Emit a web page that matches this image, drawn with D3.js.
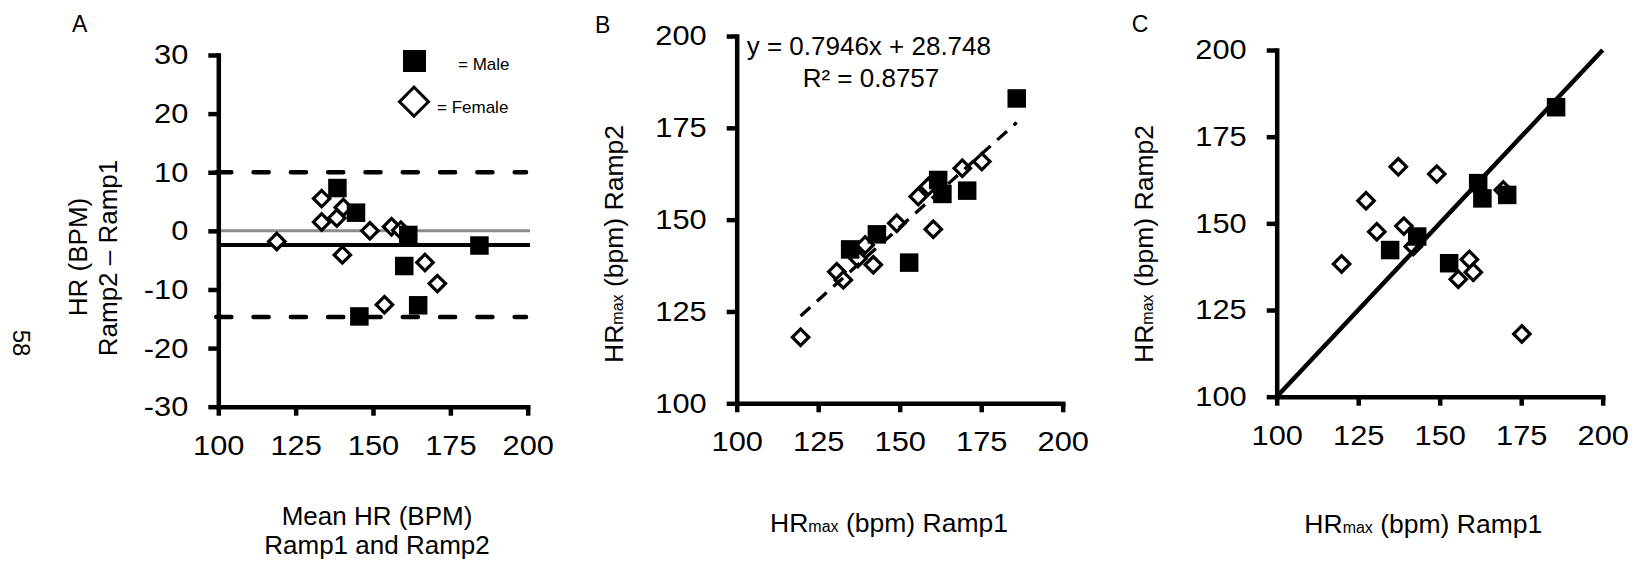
<!DOCTYPE html>
<html>
<head>
<meta charset="utf-8">
<script src="https://cdn.jsdelivr.net/npm/d3@7"></script>
<style>
  body { margin: 0; background: #fff; }
  svg text { font-family: "Liberation Sans", Arial, sans-serif; fill: #000; }
</style>
</head>
<body>
<svg width="1637" height="562"></svg>
<script>
// ---- data ----
// Panel A: Bland-Altman, mean of the two ramps vs Ramp2 - Ramp1
const maleMeanA   = [138.5, 144.5, 161.4, 160.1, 164.6, 145.6, 184.4];
const maleDiffA   = [7.3, 3.1, -0.7, -6.0, -12.7, -14.6, -2.5];
const femaleMeanA = [118.9, 133.4, 133.4, 138.3, 140.4, 140.1, 149.0, 156.0, 159.0, 166.8, 170.8, 153.7];
const femaleDiffA = [-1.8, 5.5, 1.5, 2.2, 4.0, -4.1, 0.0, 0.7, 0.1, -5.4, -9.0, -12.6];
const biasA = -2.4;
const upperLoA = 10.0;
const lowerLoA = -14.7;
const ticksDiff = [-30, -20, -10, 0, 10, 20, 30];

// Panel B: Ramp1 vs Ramp2 with linear fit
const maleRamp1B   = [134.8, 143.0, 152.9, 161.8, 163.1, 170.7, 185.9];
const maleRamp2B   = [141.9, 146.0, 138.3, 160.8, 157.0, 157.9, 183.0];
const femaleRamp1B = [119.6, 130.7, 132.7, 139.4, 137.2, 141.9, 149.1, 155.7, 158.8, 169.2, 175.2, 160.3];
const femaleRamp2B = [118.0, 135.8, 133.6, 143.1, 139.4, 137.7, 149.0, 156.3, 159.0, 164.0, 165.8, 147.4];
const fitSlope = 0.7946;
const fitIntercept = 28.748;
const fitR2 = 0.8757;

// Panel C: Ramp1 vs Ramp2 with line of identity
const maleRamp1C   = [134.8, 143.1, 152.9, 161.8, 163.1, 170.7, 185.7];
const maleRamp2C   = [142.3, 146.2, 138.5, 161.6, 157.2, 158.2, 183.5];
const femaleRamp1C = [137.3, 149.1, 127.4, 130.7, 139.0, 141.9, 119.9, 159.1, 160.3, 155.7, 175.2, 169.5];
const femaleRamp2C = [166.3, 164.2, 156.5, 147.6, 149.2, 143.3, 138.3, 139.6, 135.9, 133.9, 118.1, 159.6];

const ticksHR = [100, 125, 150, 175, 200];

const svg = d3.select("svg");
const FONT_TICK = 28;
const STRETCH = 1.1; // the figure's text is a bit wider than plain Arial
const AXIS_W = 4.5;

const diamond = d3.symbol().type(d3.symbolSquare).size(135);
const SQ = 18.5;

function drawAxes(g, x, y, xTicks, yTicks) {
  const yAxis = g.append("g")
    .attr("transform", `translate(${x.range()[0]},0)`)
    .call(d3.axisLeft(y).tickValues(yTicks).tickFormat(d => String(d))
      .tickSizeInner(10).tickSizeOuter(0).tickPadding(20));
  const xAxis = g.append("g")
    .attr("transform", `translate(0,${y.range()[0]})`)
    .call(d3.axisBottom(x).tickValues(xTicks).tickFormat(d => String(d))
      .tickSizeInner(9).tickSizeOuter(0).tickPadding(19));
  [xAxis, yAxis].forEach(a => {
    a.select(".domain").attr("stroke", "#000").attr("stroke-width", AXIS_W).attr("stroke-linecap", "square");
    a.selectAll(".tick line").attr("stroke", "#000").attr("stroke-width", AXIS_W);
    a.selectAll(".tick text").attr("font-size", FONT_TICK).attr("fill", "#000")
      .attr("font-family", '"Liberation Sans", Arial, sans-serif')
      .attr("transform", `scale(${STRETCH},1)`);
  });
  yAxis.selectAll(".tick text").attr("x", -30 / STRETCH);
}

function drawPoints(g, x, y, fx, fy, mx, my) {
  g.append("g").selectAll("path")
    .data(fx.map((d, i) => [d, fy[i]]))
    .enter().append("path")
    .attr("d", diamond)
    .attr("transform", d => `translate(${x(d[0])},${y(d[1])}) rotate(45)`)
    .attr("fill", "#fff").attr("stroke", "#000").attr("stroke-width", 3.2);
  g.append("g").selectAll("rect")
    .data(mx.map((d, i) => [d, my[i]]))
    .enter().append("rect")
    .attr("x", d => x(d[0]) - SQ / 2)
    .attr("y", d => y(d[1]) - SQ / 2)
    .attr("width", SQ).attr("height", SQ)
    .attr("fill", "#000");
}

function hrTitle(g, x, y, rot, last) {
  const t = g.append("text")
    .attr("transform", `translate(${x},${y})` + (rot ? " rotate(-90)" : ""))
    .attr("text-anchor", "middle").attr("font-size", 26.5);
  t.append("tspan").text("HR");
  t.append("tspan").attr("font-size", 16).text("max");
  t.append("tspan").text(" (bpm) " + last);
}

// ---------------- Panel A ----------------
const gA = svg.append("g");
const xA = d3.scaleLinear().domain([100, 200]).range([218.3, 527.7]);
const yA = d3.scaleLinear().domain([-30, 30]).range([406.7, 55]);

gA.append("line").attr("x1", xA(100)).attr("x2", 530).attr("y1", yA(0)).attr("y2", yA(0))
  .attr("stroke", "#8c8c8c").attr("stroke-width", 3);
gA.append("line").attr("x1", xA(100)).attr("x2", 530).attr("y1", yA(biasA)).attr("y2", yA(biasA))
  .attr("stroke", "#000").attr("stroke-width", 4);
[upperLoA, lowerLoA].forEach(v => {
  gA.append("line").attr("x1", xA(100) - 2).attr("x2", 526).attr("y1", yA(v)).attr("y2", yA(v))
    .attr("stroke", "#000").attr("stroke-width", 4.6)
    .attr("stroke-dasharray", "15,22.3").attr("stroke-linecap", "round");
});
drawAxes(gA, xA, yA, ticksHR, ticksDiff);
drawPoints(gA, xA, yA, femaleMeanA, femaleDiffA, maleMeanA, maleDiffA);

// legend
gA.append("rect").attr("x", 403).attr("y", 50).attr("width", 23).attr("height", 22).attr("fill", "#000");
gA.append("text").attr("x", 458).attr("y", 70).attr("font-size", 17).attr("fill", "#222").text("= Male");
gA.append("path").attr("d", d3.symbol().type(d3.symbolSquare).size(420))
  .attr("transform", "translate(414,101.7) rotate(45)")
  .attr("fill", "#fff").attr("stroke", "#000").attr("stroke-width", 3);
gA.append("text").attr("x", 437).attr("y", 113).attr("font-size", 17).attr("fill", "#222").text("= Female");

gA.append("text").attr("x", 72).attr("y", 31.5).attr("font-size", 23).text("A");
gA.append("text").attr("transform", "translate(87,257) rotate(-90)")
  .attr("text-anchor", "middle").attr("font-size", 26).text("HR (BPM)");
gA.append("text").attr("transform", "translate(117,258) rotate(-90)")
  .attr("text-anchor", "middle").attr("font-size", 26).text("Ramp2 \u2013 Ramp1");
gA.append("text").attr("x", 377).attr("y", 525).attr("text-anchor", "middle").attr("font-size", 26).text("Mean HR (BPM)");
gA.append("text").attr("x", 377).attr("y", 554).attr("text-anchor", "middle").attr("font-size", 26).text("Ramp1 and Ramp2");
// page number
svg.append("text").attr("transform", "translate(13,343) rotate(90)")
  .attr("text-anchor", "middle").attr("font-size", 24).text("58");

// ---------------- Panel B ----------------
const gB = svg.append("g");
const xB = d3.scaleLinear().domain([100, 200]).range([736.7, 1062.7]);
const yB = d3.scaleLinear().domain([100, 200]).range([403.3, 36]);
drawAxes(gB, xB, yB, ticksHR, ticksHR);
drawPoints(gB, xB, yB, femaleRamp1B, femaleRamp2B, maleRamp1B, maleRamp2B);
const fitX = d3.extent(maleRamp1B.concat(femaleRamp1B));
gB.append("line")
  .attr("x1", xB(fitX[0])).attr("y1", yB(fitSlope * fitX[0] + fitIntercept))
  .attr("x2", xB(fitX[1])).attr("y2", yB(fitSlope * fitX[1] + fitIntercept))
  .attr("stroke", "#000").attr("stroke-width", 3.3).attr("stroke-dasharray", "13,9");
gB.append("text").attr("x", 746.7).attr("y", 55).attr("font-size", 26)
  .text(`y = ${fitSlope}x + ${fitIntercept}`);
gB.append("text").attr("x", 871).attr("y", 86.7).attr("text-anchor", "middle").attr("font-size", 26)
  .text(`R\u00b2 = ${fitR2}`);
gB.append("text").attr("x", 595).attr("y", 33).attr("font-size", 23).text("B");
hrTitle(gB, 623, 244, true, "Ramp2");
hrTitle(gB, 889, 531.7, false, "Ramp1");

// ---------------- Panel C ----------------
const gC = svg.append("g");
const xC = d3.scaleLinear().domain([100, 200]).range([1276.7, 1602.7]);
const yC = d3.scaleLinear().domain([100, 200]).range([396.7, 50]);
drawAxes(gC, xC, yC, ticksHR, ticksHR);
drawPoints(gC, xC, yC, femaleRamp1C, femaleRamp2C, maleRamp1C, maleRamp2C);
gC.append("line")
  .attr("x1", xC(100)).attr("y1", yC(100)).attr("x2", xC(200)).attr("y2", yC(200))
  .attr("stroke", "#000").attr("stroke-width", 4.5);
gC.append("text").attr("x", 1131.7).attr("y", 31.5).attr("font-size", 23).text("C");
hrTitle(gC, 1153.3, 244, true, "Ramp2");
hrTitle(gC, 1423.3, 532.7, false, "Ramp1");
</script>
</body>
</html>
